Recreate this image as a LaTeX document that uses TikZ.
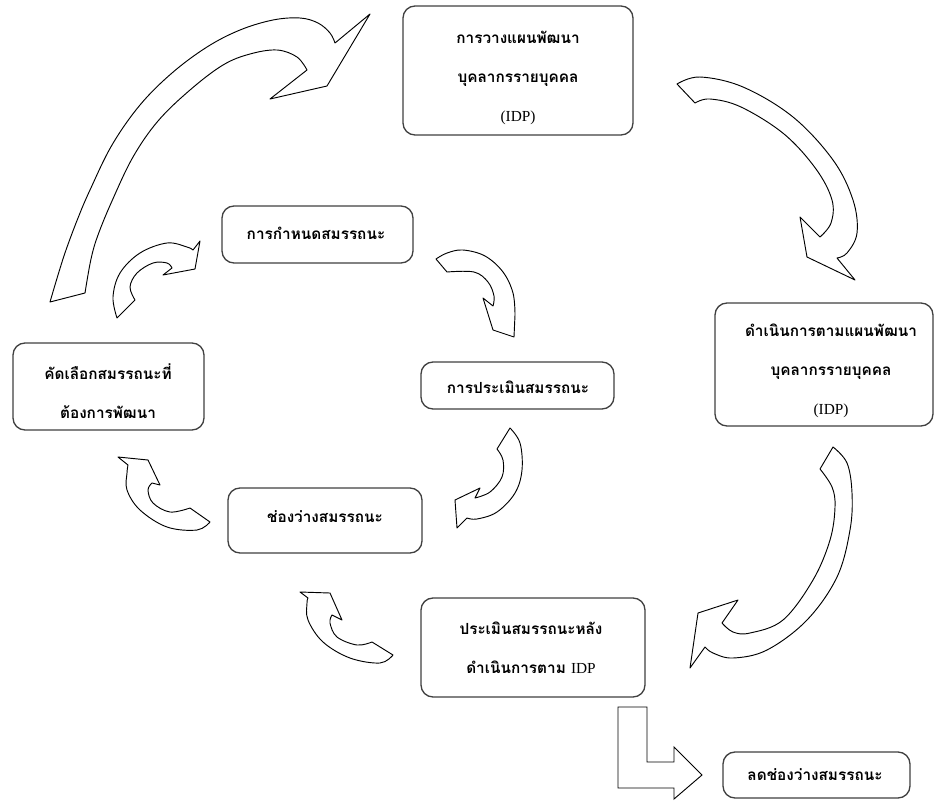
\documentclass[tikz,border=0pt]{standalone}
\usepackage{fontspec}
\setmainfont{Liberation Serif}
\newfontfamily\thaifont[Script=Thai]{Loma}
\begin{document}
\begin{tikzpicture}[x=0.75pt,y=-0.75pt,
  box/.style={draw=black!75, line width=1pt, rounded corners=9pt, fill=white, inner sep=0pt},
  txt/.style={font=\thaifont\bfseries\fontsize{11.5}{29}\selectfont, align=center, inner sep=0pt},
  blockarrow/.style={draw=black, line width=0.7pt, fill=white, line join=round}]
\useasboundingbox (0,0) rectangle (941,800);

% ---- boxes ----
\node[box, minimum width=172.5pt, minimum height=96.75pt] (plan) at (518,70.5) {};
\node[txt] (plan-t) at (518,78) {การวางแผนพัฒนา\\บุคลากรรายบุคคล\\{\rmfamily\mdseries (IDP)}};

\node[box, minimum width=163.5pt, minimum height=92.25pt] (do) at (824,364.5) {};
\node[txt] (do-t) at (831,371) {ดำเนินการตามแผนพัฒนา\\บุคลากรรายบุคคล\\{\rmfamily\mdseries (IDP)}};

\node[box, minimum width=143.25pt, minimum height=65.25pt] (select) at (108.5,386.5) {};
\node[txt] (select-t) at (108,391) {คัดเลือกสมรรถนะที่\\ต้องการพัฒนา};

\node[box, minimum width=143.25pt, minimum height=42.75pt] (define) at (317.5,234.5) {};
\node[txt] (define-t) at (316,233) {การกำหนดสมรรถนะ};

\node[box, minimum width=144.75pt, minimum height=35.25pt] (assess) at (517.5,385.5) {};
\node[txt] (assess-t) at (518,387) {การประเมินสมรรถนะ};

\node[box, minimum width=145.5pt, minimum height=48.75pt] (gap) at (325,520.5) {};
\node[txt] (gap-t) at (325,517) {ช่องว่างสมรรถนะ};

\node[box, minimum width=168pt, minimum height=74.25pt] (post) at (533,647.5) {};
\node[txt] (post-t) at (531,648) {ประเมินสมรรถนะหลัง\\ดำเนินการตาม {\rmfamily\mdseries IDP}};

\node[box, minimum width=140.25pt, minimum height=34.5pt] (reduce) at (816.5,775) {};
\node[txt] (reduce-t) at (815,775) {ลดช่องว่างสมรรถนะ};

% ---- large curved arrows (outer cycle) ----
\draw[blockarrow] plot[smooth, tension=0.6] coordinates {(50,302) (58,275) (66,250) (78,218) (90,190) (112,145) (140,105) (172,73) (207,47) (240,30) (273,20) (300,18) (318,23) (330,33) (335,43)}
  -- (370,14) -- (327,86) -- (270,99) -- (307,70)
  -- plot[smooth, tension=0.6] coordinates {(307,70) (297,57) (277,50) (250,54) (223,65) (190,90) (158,121) (133,157) (112,201) (98,235) (91,259) (85,293)}
  -- cycle;

\draw[blockarrow] plot[smooth, tension=0.6] coordinates {(677,84) (700,77) (743,87) (793,117) (833,160) (853,200) (857,233) (847,253) (837,258)}
  -- (855,280) -- (807,257) -- (800,217) -- (820,237)
  -- plot[smooth, tension=0.6] coordinates {(820,237) (831,223) (832,200) (816,169) (784,134) (741,107) (710,99) (695,103)}
  -- cycle;

\draw[blockarrow] plot[smooth, tension=0.6] coordinates {(833,447) (847,463) (852,493) (850,530) (837,577) (807,620) (767,650) (733,658) (713,653) (705,647)}
  -- (690,668) -- (698,613) -- (738,600) -- (722,623)
  -- plot[smooth, tension=0.6] coordinates {(722,623) (733,632) (750,633) (783,620) (813,580) (830,540) (835,507) (832,487) (820,469)}
  -- cycle;

% ---- small curved arrows (inner cycle) ----
\draw[blockarrow] plot[smooth, tension=0.6] coordinates {(117,318) (113,297) (120,273) (140,253) (167,243) (187,247) (193,250)}
  -- (200,241) -- (195,269) -- (163,275) -- (172,268)
  -- plot[smooth, tension=0.6] coordinates {(172,268) (167,263) (153,263) (137,273) (130,287) (135,300)}
  -- cycle;

\draw[blockarrow] plot[smooth, tension=0.6] coordinates {(436,259) (447,253) (463,250) (485,256) (503,272) (513,293) (515,315)}
  -- (514,337) -- (493,330) -- (483,298) -- (493,306)
  -- plot[smooth, tension=0.6] coordinates {(493,306) (494,296) (488,282) (474,272) (447,272)}
  -- cycle;

\draw[blockarrow] plot[smooth, tension=0.6] coordinates {(510,428) (520,443) (522,470) (515,493) (497,512) (477,519) (467,518)}
  -- (457,528) -- (455,500) -- (480,488) -- (475,498)
  -- plot[smooth, tension=0.6] coordinates {(475,498) (490,492) (502,477) (503,460) (497,449)}
  -- cycle;

\draw[blockarrow] plot[smooth, tension=0.6] coordinates {(210,522) (197,530) (167,527) (140,510) (127,490) (127,473) (128,465)}
  -- (118,457) -- (148,460) -- (160,485) -- (152,483)
  -- plot[smooth, tension=0.6] coordinates {(152,483) (148,490) (153,503) (170,512) (190,508)}
  -- cycle;

\draw[blockarrow] plot[smooth, tension=0.6] coordinates {(393,655) (380,663) (350,658) (323,642) (308,620) (307,603) (308,598)}
  -- (300,592) -- (330,593) -- (342,620) -- (332,615)
  -- plot[smooth, tension=0.6] coordinates {(332,615) (330,623) (337,637) (357,645) (372,642)}
  -- cycle;

% ---- elbow arrow towards the final box ----
\draw[blockarrow, line join=miter] (618,707) -- (647,707) -- (647,762) -- (674,762) -- (674,747)
  -- (702,775) -- (674,799) -- (674,788) -- (618,788) -- cycle;
\end{tikzpicture}
\end{document}
